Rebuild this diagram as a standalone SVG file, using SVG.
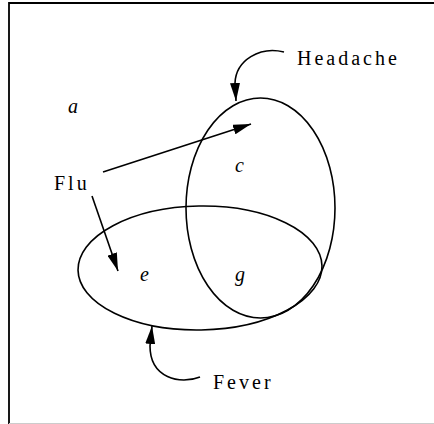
<svg xmlns="http://www.w3.org/2000/svg" width="434" height="424" viewBox="0 0 434 424">
<style>
.l{fill:none;stroke:#000;stroke-width:1.6}
.t{font-family:"Liberation Serif","DejaVu Serif",serif;font-size:20px;letter-spacing:3px;fill:#000}
.i{font-family:"Liberation Serif","DejaVu Serif",serif;font-size:20px;font-style:italic;fill:#000}
</style>
<defs>
<marker id="ah" markerWidth="18" markerHeight="10" refX="18" refY="5" orient="auto" markerUnits="userSpaceOnUse">
<path d="M0,0 L18,5 L0,10 z" fill="#000"/>
</marker>
</defs>
<rect width="434" height="424" fill="#fff"/>
<path d="M9,424 V3 H434" fill="none" stroke="#000" stroke-width="1.8"/>
<line x1="9" y1="423.5" x2="434" y2="423.5" stroke="#ccc" stroke-width="1"/>
<g id="headache-set"><ellipse class="l" cx="260.5" cy="208" rx="74.5" ry="110"/></g>
<g id="fever-set"><ellipse class="l" cx="200" cy="268" rx="122" ry="62" transform="rotate(-1 200 268)"/></g>
<g id="a"><text class="i" x="68" y="113">a</text></g>
<g id="c"><text class="i" x="235" y="172">c</text></g>
<g id="e"><text class="i" x="140" y="281">e</text></g>
<g id="g"><text class="i" x="235" y="281">g</text></g>
<g id="flu"><text class="t" x="54" y="190">Flu</text></g>
<g id="headache"><text class="t" x="297" y="65">Headache</text></g>
<g id="fever"><text class="t" x="213" y="389">Fever</text></g>
<g id="connectors">
<path class="l" d="M103,172 L251,124" marker-end="url(#ah)"/>
<path class="l" d="M92,196 L118,271" marker-end="url(#ah)"/>
<path class="l" d="M284,52 C260,46 236,60 235,83 L236,101" marker-end="url(#ah)"/>
<path class="l" d="M200,377 C180,385 150,378 150,346 L152,326" marker-end="url(#ah)"/>
</g>
</svg>
